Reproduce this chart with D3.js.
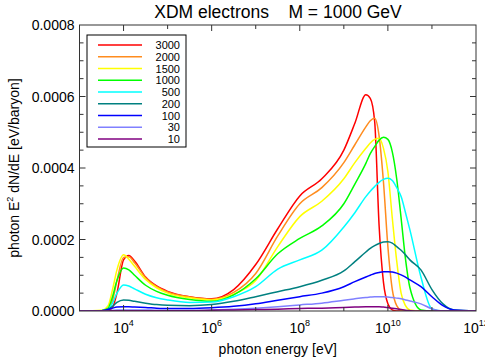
<!DOCTYPE html>
<html>
<head>
<meta charset="utf-8">
<script src="https://cdn.jsdelivr.net/npm/d3@7"></script>
<style>
  body { margin: 0; background: #fff; }
  text { font-family: "Liberation Sans", Arial, Helvetica, sans-serif; fill: #000; }
</style>
</head>
<body>
<div id="chart"></div>
<script>
// log10 of photon energy [eV]
const logE = [3.0, 3.5, 3.65, 3.75, 3.85, 4.0, 4.12, 4.25, 4.5, 4.75, 5.0, 5.5, 6.0, 6.5, 7.0, 7.5, 8.0, 8.5,
  9.0, 9.25, 9.5, 9.6, 9.7, 9.8, 9.9, 10.0, 10.1, 10.2, 10.3, 10.4, 10.5, 10.75, 11.0, 11.25, 11.5, 12.0];

// E^2 dN/dE in units of 1e-4 eV/baryon
const s3000 = [0, 0, 0.01, 0.1, 0.5, 1.43, 1.55, 1.4, 0.95, 0.7, 0.55, 0.4, 0.34, 0.6, 1.3, 2.3, 3.22, 3.7,
  4.5, 5.25, 6.05, 5.95, 5.3, 2.4, 0.8, 0.2, 0.03, 0, 0, 0, 0, 0, 0, 0, 0, 0];
const s2000 = [0, 0, 0.04, 0.3, 0.85, 1.5, 1.52, 1.35, 0.93, 0.68, 0.53, 0.39, 0.33, 0.52, 1.05, 2.1, 3.0, 3.45,
  4.15, 4.65, 5.15, 5.32, 5.39, 4.9, 3.6, 1.8, 0.6, 0.15, 0.02, 0, 0, 0, 0, 0, 0, 0];
const s1500 = [0, 0.02, 0.15, 0.6, 1.15, 1.57, 1.45, 1.25, 0.88, 0.65, 0.5, 0.37, 0.31, 0.47, 0.85, 1.8, 2.64, 3.07,
  3.7, 4.15, 4.55, 4.7, 4.8, 4.83, 4.55, 3.9, 2.6, 1.4, 0.5, 0.15, 0.03, 0, 0, 0, 0, 0];
const s1000 = [0, 0.01, 0.08, 0.4, 0.85, 1.2, 1.15, 1.0, 0.72, 0.55, 0.44, 0.32, 0.27, 0.45, 0.9, 1.6, 2.03, 2.38,
  3.0, 3.55, 4.13, 4.4, 4.6, 4.78, 4.86, 4.8, 4.45, 3.7, 2.6, 1.45, 0.65, 0.03, 0, 0, 0, 0];
const s500 = [0, 0.01, 0.05, 0.22, 0.5, 0.73, 0.7, 0.62, 0.47, 0.37, 0.31, 0.24, 0.25, 0.4, 0.68, 1.17, 1.43, 1.7,
  2.35, 2.75, 3.2, 3.35, 3.48, 3.6, 3.68, 3.71, 3.65, 3.45, 3.2, 2.75, 2.27, 0.95, 0.06, 0, 0, 0];
const s200 = [0, 0.01, 0.05, 0.13, 0.24, 0.31, 0.3, 0.27, 0.22, 0.18, 0.16, 0.15, 0.18, 0.27, 0.4, 0.54, 0.68, 0.86,
  1.12, 1.38, 1.65, 1.75, 1.83, 1.89, 1.93, 1.94, 1.9, 1.8, 1.7, 1.57, 1.43, 1.15, 0.6, 0.2, 0.03, 0];
const s100 = [0, 0.01, 0.04, 0.08, 0.11, 0.12, 0.12, 0.11, 0.1, 0.08, 0.07, 0.07, 0.09, 0.13, 0.2, 0.3, 0.4, 0.5,
  0.68, 0.82, 0.95, 1.0, 1.05, 1.08, 1.1, 1.1, 1.09, 1.06, 1.01, 0.95, 0.87, 0.68, 0.4, 0.15, 0.03, 0];
const s30 = [0, 0, 0.01, 0.02, 0.03, 0.03, 0.03, 0.03, 0.03, 0.02, 0.02, 0.02, 0.03, 0.05, 0.08, 0.12, 0.17, 0.22,
  0.3, 0.34, 0.38, 0.39, 0.4, 0.4, 0.4, 0.39, 0.38, 0.36, 0.34, 0.31, 0.28, 0.2, 0.06, 0, 0, 0];
const s10 = [0, 0, 0, 0.01, 0.01, 0.01, 0.01, 0.01, 0.01, 0.01, 0.01, 0.01, 0.02, 0.03, 0.04, 0.05, 0.07, 0.08,
  0.1, 0.11, 0.12, 0.12, 0.12, 0.12, 0.11, 0.1, 0.08, 0.06, 0.04, 0.02, 0.01, 0, 0, 0, 0, 0];

const seriesNames = ["3000", "2000", "1500", "1000", "500", "200", "100", "30", "10"];
const seriesValues = [s3000, s2000, s1500, s1000, s500, s200, s100, s30, s10];
const seriesColors = ["#ff0000", "#ff8c1e", "#ffff00", "#00ff00", "#00ffff", "#008080", "#0000ff", "#8080ff", "#800080"];

const xTickExps = [4, 6, 8, 10, 12];
const yTicks = [0, 2, 4, 6, 8];

const width = 485, height = 363;
const margin = { top: 25, right: 9, bottom: 52, left: 79.5 };

const svg = d3.select("#chart").append("svg")
  .attr("width", width)
  .attr("height", height);

const x = d3.scaleLog()
  .domain([1e3, 1e12])
  .range([margin.left, width - margin.right]);

const y = d3.scaleLinear()
  .domain([0, 8])
  .range([height - margin.bottom, margin.top]);

const x0 = x.range()[0], x1 = x.range()[1];
const y0 = y.range()[0], y1 = y.range()[1];

// clip for curves
svg.append("clipPath").attr("id", "plot-clip")
  .append("rect")
  .attr("x", x0).attr("y", y1)
  .attr("width", x1 - x0).attr("height", y0 - y1);

const line = d3.line()
  .x((d, i) => x(Math.pow(10, logE[i])))
  .y(d => y(d))
  .curve(d3.curveMonotoneX);

const curves = svg.append("g").attr("clip-path", "url(#plot-clip)");
seriesValues.forEach((vals, k) => {
  curves.append("path")
    .attr("d", line(vals))
    .attr("fill", "none")
    .attr("stroke", seriesColors[k])
    .attr("stroke-width", 1.5);
});

// frame
svg.append("rect")
  .attr("x", x0).attr("y", y1)
  .attr("width", x1 - x0).attr("height", y0 - y1)
  .attr("fill", "none")
  .attr("stroke", "#333")
  .attr("stroke-width", 1);

// ticks (inward on all sides)
const ticks = svg.append("g").attr("stroke", "#333").attr("stroke-width", 1);
for (let e = 4; e <= 11; e++) {
  const len = e % 2 === 0 ? 6 : 4;
  const px = x(Math.pow(10, e));
  ticks.append("line").attr("x1", px).attr("x2", px).attr("y1", y0).attr("y2", y0 - len);
  ticks.append("line").attr("x1", px).attr("x2", px).attr("y1", y1).attr("y2", y1 + len);
}
d3.range(0.5, 8, 0.5).forEach(v => {
  const len = v % 2 === 0 ? 6 : 4;
  const py = y(v);
  ticks.append("line").attr("x1", x0).attr("x2", x0 + len).attr("y1", py).attr("y2", py);
  ticks.append("line").attr("x1", x1).attr("x2", x1 - len).attr("y1", py).attr("y2", py);
});

// x tick labels: 10^n (last one runs off the right edge, as in the original)
xTickExps.forEach(e => {
  const t = svg.append("text")
    .attr("x", x(Math.pow(10, e)))
    .attr("y", y0 + 22)
    .attr("text-anchor", "middle")
    .style("font-size", "14px");
  t.append("tspan").text("10");
  t.append("tspan").attr("dy", -7).style("font-size", "9px").text(e);
});

// y tick labels
yTicks.forEach(v => {
  svg.append("text")
    .attr("x", x0 - 5)
    .attr("y", y(v) + 5)
    .attr("text-anchor", "end")
    .style("font-size", "14px")
    .text((v * 1e-4).toFixed(4));
});

// title
svg.append("text")
  .attr("x", 278)
  .attr("y", 18)
  .attr("text-anchor", "middle")
  .style("font-size", "17.5px")
  .attr("xml:space", "preserve")
  .text("XDM electrons    M = 1000 GeV");

// x axis label
svg.append("text")
  .attr("x", (x0 + x1) / 2)
  .attr("y", 354)
  .attr("text-anchor", "middle")
  .style("font-size", "14px")
  .text("photon energy [eV]");

// y axis label
const yl = svg.append("text")
  .attr("transform", `translate(19, ${(y0 + y1) / 2}) rotate(-90)`)
  .attr("text-anchor", "middle")
  .style("font-size", "14px");
yl.append("tspan").text("photon E");
yl.append("tspan").attr("dy", -6).style("font-size", "9px").text("2");
yl.append("tspan").attr("dy", 6).text(" dN/dE [eV/baryon]");

// legend
const legend = svg.append("g").attr("transform", "translate(87, 35)");
legend.append("rect")
  .attr("width", 99).attr("height", 112)
  .attr("fill", "#fff")
  .attr("stroke", "#000")
  .attr("stroke-width", 1);
seriesNames.forEach((name, k) => {
  const ly = 10 + k * 11.75;
  legend.append("line")
    .attr("x1", 11).attr("x2", 55)
    .attr("y1", ly).attr("y2", ly)
    .attr("stroke", seriesColors[k])
    .attr("stroke-width", 1.5);
  legend.append("text")
    .attr("x", 93).attr("y", ly + 4)
    .attr("text-anchor", "end")
    .style("font-size", "11px")
    .text(name);
});
</script>
</body>
</html>
